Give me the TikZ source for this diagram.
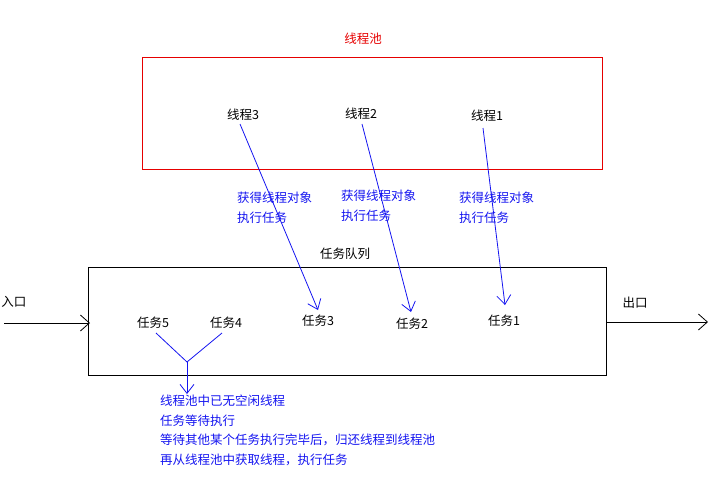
\documentclass[tikz,border=0pt]{standalone}
\usepackage{fontspec}
\setmainfont{Noto Sans CJK SC}
\usetikzlibrary{arrows.meta}
\definecolor{pblue}{RGB}{20,20,240}
\definecolor{pred}{RGB}{230,0,0}
\tikzset{
  txt/.style={inner sep=0pt, font=\fontsize{12.5}{19.5}\selectfont},
  btxt/.style={txt, text=pblue, align=left, anchor=north west},
  link/.style={draw=pblue, line width=0.8pt, -{Straight Barb[length=9pt,width=14pt]}},
  plain/.style={draw=pblue, line width=0.8pt},
  flow/.style={draw=black, line width=0.8pt, -{Straight Barb[length=9pt,width=16pt]}},
  box/.style={draw=black, line width=0.8pt},
}
\begin{document}
\begin{tikzpicture}[x=1pt,y=-1pt]
\useasboundingbox (0,0) rectangle (726,488);
% thread pool
\node[txt, text=pred] (pooltitle) at (363,39) {线程池};
\draw[draw=pred, line width=0.8pt] (142,57) rectangle (602,169);
\node[txt] (t3) at (243,115) {线程3};
\node[txt] (t2) at (361,114) {线程2};
\node[txt] (t1) at (487,116) {线程1};
% task queue
\node[txt] (qtitle) at (345,254) {任务队列};
\draw[box] (88,267) rectangle (606,375);
\node[txt] (k5) at (153,323) {任务5};
\node[txt] (k4) at (226,323) {任务4};
\node[txt] (k3) at (318,321) {任务3};
\node[txt] (k2) at (412,324) {任务2};
\node[txt] (k1) at (504,321) {任务1};
% in / out
\node[txt] (inl) at (14,302) {入口};
\node[txt] (outl) at (635,303) {出口};
\coordinate (inS) at (4,323);
\coordinate (inE) at (90,323);
\coordinate (outS) at (606,322);
\coordinate (outE) at (708,322);
\draw[flow] (inS) -- (inE);
\draw[flow] (outS) -- (outE);
% blue labels
\node[btxt] (l3) at (237,192) {获得线程对象\\执行任务};
\node[btxt] (l2) at (341,190) {获得线程对象\\执行任务};
\node[btxt] (l1) at (459,192) {获得线程对象\\执行任务};
% thread -> task links
\coordinate (s3) at (240,124);
\coordinate (e3) at (318,310);
\coordinate (s2) at (362,124);
\coordinate (e2) at (411,312);
\coordinate (s1) at (483,128);
\coordinate (e1) at (505,305);
\draw[link] (s3) -- (e3);
\draw[link] (s2) -- (e2);
\draw[link] (s1) -- (e1);
% Y junction
\coordinate (j) at (187,362);
\coordinate (jb) at (187,394);
\coordinate (y5) at (156,333);
\coordinate (y4) at (222,333);
\draw[plain] (y5) -- (j);
\draw[plain] (y4) -- (j);
\draw[link] (j) -- (jb);
\node[btxt] (note) at (160,395) {线程池中已无空闲线程\\任务等待执行\\等待其他某个任务执行完毕后，归还线程到线程池\\再从线程池中获取线程，执行任务};
\end{tikzpicture}
\end{document}
